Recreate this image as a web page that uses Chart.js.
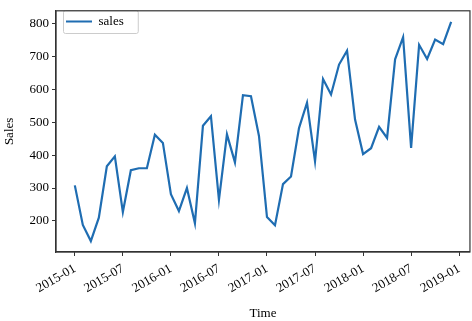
<!DOCTYPE html>
<html>
<head>
<meta charset="utf-8">
<script src="https://cdn.jsdelivr.net/npm/chart.js@4"></script>
<style>
  html, body { margin: 0; padding: 0; background: #fff; }
  #wrap { width: 472px; height: 321px; }
</style>
</head>
<body>
<div id="wrap"><canvas id="salesChart"></canvas></div>
<script>
// monthly sales, 2015-01 .. 2018-12
const months = [
  '2015-01','2015-02','2015-03','2015-04','2015-05','2015-06','2015-07','2015-08','2015-09','2015-10','2015-11','2015-12',
  '2016-01','2016-02','2016-03','2016-04','2016-05','2016-06','2016-07','2016-08','2016-09','2016-10','2016-11','2016-12',
  '2017-01','2017-02','2017-03','2017-04','2017-05','2017-06','2017-07','2017-08','2017-09','2017-10','2017-11','2017-12',
  '2018-01','2018-02','2018-03','2018-04','2018-05','2018-06','2018-07','2018-08','2018-09','2018-10','2018-11','2018-12'
];
const sales = [
  308, 188, 139, 210, 366, 396, 227, 354, 360, 360, 462, 437,
  281, 230, 300, 193, 489, 518, 264, 463, 378, 582, 579, 458,
  212, 187, 312, 335, 482, 559, 381, 631, 584, 675, 717, 508,
  403, 421, 486, 452, 691, 758, 422, 735, 692, 751, 737, 805
];
const xTickLabels = ['2015-01','2015-07','2016-01','2016-07','2017-01','2017-07','2018-01','2018-07','2019-01'];
const yTicks = [200, 300, 400, 500, 600, 700, 800];

// month offset from the first month
function monthIndex(s) {
  const [y, m] = s.split('-').map(Number);
  const [y0, m0] = months[0].split('-').map(Number);
  return (y - y0) * 12 + (m - m0);
}

const points = months.map((m, i) => ({ x: monthIndex(m), y: sales[i] }));
const xTickValues = xTickLabels.map(monthIndex);

// matplotlib style 5% margins
const xSpan = monthIndex(months[months.length - 1]);
const yMinD = Math.min(...sales), yMaxD = Math.max(...sales);
const yPad = (yMaxD - yMinD) * 0.05;

const fontFam = "'Liberation Serif', 'DejaVu Serif', serif";
const spine = '#333333';
const legendDrop = 5;

// box around the plot + frame around the legend
const framePlugin = {
  id: 'frame',
  afterLayout(chart) {
    const lg = chart.legend;
    if (!lg) return;
    lg.top += legendDrop;
    lg.bottom += legendDrop;
    (lg.legendHitBoxes || []).forEach(h => { h.top += legendDrop; });
  },
  beforeDraw(chart) {
    const lg = chart.legend;
    if (!lg || !lg.legendHitBoxes || !lg.legendHitBoxes.length) return;
    const hb = lg.legendHitBoxes[0];
    const ctx = chart.ctx;
    const x0 = hb.left - 2.5, y0 = hb.top - 4.5;
    const x1 = hb.left + hb.width + 14.5, y1 = hb.top + hb.height + 5.5;
    ctx.save();
    ctx.fillStyle = 'rgba(255,255,255,0.8)';
    ctx.strokeStyle = '#cccccc';
    ctx.lineWidth = 1;
    ctx.beginPath();
    ctx.roundRect(x0, y0, x1 - x0, y1 - y0, 2);
    ctx.fill();
    ctx.stroke();
    ctx.restore();
  },
  afterDraw(chart) {
    const a = chart.chartArea;
    const ctx = chart.ctx;
    ctx.save();
    ctx.strokeStyle = spine;
    ctx.lineWidth = 1.2;
    ctx.strokeRect(a.left, a.top, a.right - a.left, a.bottom - a.top);
    ctx.restore();
  }
};

new Chart('salesChart', {
  type: 'line',
  data: {
    datasets: [{
      label: 'sales',
      data: points,
      borderColor: '#1f6db2',
      backgroundColor: '#1f6db2',
      borderWidth: 2.2,
      pointRadius: 0,
      tension: 0,
      fill: false
    }]
  },
  options: {
    responsive: true,
    maintainAspectRatio: false,
    animation: false,
    layout: { padding: { top: 3, right: 2, left: 0, bottom: 0 } },
    plugins: {
      tooltip: { enabled: false },
      legend: {
        display: true,
        position: 'chartArea',
        align: 'start',
        labels: {
          usePointStyle: true,
          pointStyle: 'line',
          pointStyleWidth: 26,
          padding: 10,
          color: '#000',
          font: { family: fontFam, size: 13 }
        }
      }
    },
    scales: {
      x: {
        type: 'linear',
        min: -xSpan * 0.05,
        max: xSpan * 1.05,
        afterBuildTicks(scale) {
          scale.ticks = xTickValues.map(v => ({ value: v }));
        },
        afterFit(scale) { scale.height = 69; },
        ticks: {
          autoSkip: false,
          minRotation: 30,
          maxRotation: 30,
          padding: 5,
          color: '#000',
          font: { family: fontFam, size: 13 },
          callback: (v, i) => xTickLabels[i]
        },
        grid: { display: true, drawOnChartArea: false, drawTicks: true, tickLength: 4, color: spine },
        border: { display: true, color: spine, width: 1.2 },
        title: {
          display: true,
          text: 'Time',
          color: '#000',
          font: { family: fontFam, size: 13 },
          padding: { top: 0, bottom: 0 }
        }
      },
      y: {
        type: 'linear',
        min: yMinD - yPad,
        max: yMaxD + yPad,
        afterBuildTicks(scale) {
          scale.ticks = yTicks.map(v => ({ value: v }));
        },
        afterFit(scale) { scale.width = 56; },
        ticks: {
          padding: 3,
          color: '#000',
          font: { family: fontFam, size: 13 }
        },
        grid: { display: true, drawOnChartArea: false, drawTicks: true, tickLength: 4, color: spine },
        border: { display: true, color: spine, width: 1.2 },
        title: {
          display: true,
          text: 'Sales',
          color: '#000',
          font: { family: fontFam, size: 13 },
          padding: { top: 2, bottom: 0 }
        }
      }
    }
  },
  plugins: [framePlugin]
});
</script>
</body>
</html>
